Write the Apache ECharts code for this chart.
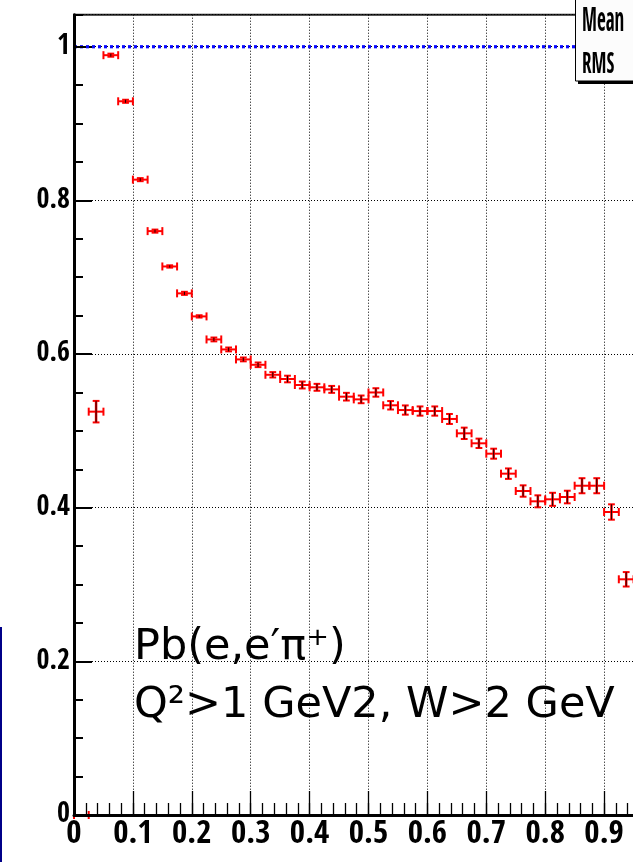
<!DOCTYPE html>
<html><head><meta charset="utf-8">
<script src="https://cdn.jsdelivr.net/npm/echarts@6/dist/echarts.min.js"></script>
<style>html,body{margin:0;padding:0;background:#fff}#c{width:633px;height:862px}</style>
</head><body><div id="c"></div>
<script>
// ---- data ----
const binCenters = [0.0125,0.0375,0.0625,0.0875,0.1125,0.1375,0.1625,0.1875,0.2125,0.2375,
  0.2625,0.2875,0.3125,0.3375,0.3625,0.3875,0.4125,0.4375,0.4625,0.4875,
  0.5125,0.5375,0.5625,0.5875,0.6125,0.6375,0.6625,0.6875,0.7125,0.7375,
  0.7625,0.7875,0.8125,0.8375,0.8625,0.8875,0.9125,0.9375];
const ratio = [0,0.525,0.989,0.929,0.827,0.760,0.714,0.679,0.649,0.619,
  0.606,0.593,0.586,0.573,0.5675,0.5597,0.5567,0.554,0.5445,0.541,
  0.550,0.5333,0.5271,0.5258,0.5258,0.5155,0.4968,0.4838,0.4703,0.4443,
  0.4217,0.4083,0.4109,0.4139,0.4286,0.4286,0.3944,0.3068];
const ratioErr = [0,0.014,0.002,0.002,0.002,0.002,0.0015,0.002,0.0015,0.0025,
  0.0025,0.0025,0.003,0.0035,0.0043,0.0045,0.0045,0.0045,0.005,0.005,
  0.0055,0.0055,0.006,0.006,0.006,0.0065,0.0074,0.0061,0.0065,0.0068,
  0.0074,0.0078,0.0085,0.0082,0.0098,0.0098,0.0100,0.0094];
const binWidth = 0.025;
const refLineX = [0, 1];
const refLineY = [1, 1];
const xTickLabels = ['0','0.1','0.2','0.3','0.4','0.5','0.6','0.7','0.8','0.9','1'];
const yTickLabels = ['0','0.2','0.4','0.6','0.8','1'];
const statLabels = ['Mean', 'RMS'];
const annotation = ['Pb(e,e\u2032\u03C0\u207A)', 'Q\u00B2>1 GeV2, W>2 GeV'];

const narrow = "'Open Sans Condensed','Roboto Condensed',sans-serif";

function labelFrom(list, step) {
  return function (v) {
    const i = Math.round(v / step);
    if (Math.abs(v - i * step) > 1e-6 || i < 0 || i >= list.length) return '';
    return list[i];
  };
}

function renderItem(params, api) {
  const x = api.value(0), y = api.value(1), e = api.value(2);
  const hw = binWidth / 2;
  const L = api.coord([x - hw, y]), R = api.coord([x + hw, y]);
  const T = api.coord([x, y + e]), B = api.coord([x, y - e]);
  const cap = 4, vcap = 3.4;
  const red = {stroke: '#ff0000', lineWidth: 2};
  return {
    type: 'group',
    children: [
      {type: 'line', shape: {x1: L[0], y1: L[1], x2: R[0], y2: R[1]}, style: red},
      {type: 'line', shape: {x1: L[0], y1: L[1] - cap, x2: L[0], y2: L[1] + cap}, style: red},
      {type: 'line', shape: {x1: R[0], y1: R[1] - cap, x2: R[0], y2: R[1] + cap}, style: red},
      {type: 'line', shape: {x1: T[0], y1: T[1], x2: B[0], y2: B[1]}, style: {stroke: '#ff0000', lineWidth: 2.5}},
      {type: 'line', shape: {x1: T[0] - vcap, y1: T[1], x2: T[0] + vcap, y2: T[1]}, style: red},
      {type: 'line', shape: {x1: B[0] - vcap, y1: B[1], x2: B[0] + vcap, y2: B[1]}, style: red},
      {type: 'line', shape: {x1: T[0], y1: T[1], x2: B[0], y2: B[1]}, style: {stroke: '#200000', lineWidth: 1}}
    ]
  };
}

const chart = echarts.init(document.getElementById('c'), null, {renderer: 'canvas'});
const yMax = 1.0417;
const option = {
  animation: false,
  backgroundColor: '#ffffff',
  grid: {left: 74, top: 14.7, width: 589, height: 800.3, show: true, containLabel: false,
         outerBoundsMode: 'none',
         backgroundColor: '#ffffff', borderColor: '#222222', borderWidth: 2},
  xAxis: [
    {type: 'value', position: 'bottom', min: 0, max: 1, interval: 0.1,
     axisLine: {show: false},
     axisTick: {show: true, inside: true, length: 24, lineStyle: {color: '#000', width: 1.3}},
     splitLine: {show: true, lineStyle: {color: '#000', width: 1, type: [1, 2]}},
     axisLabel: {show: true, formatter: labelFrom(xTickLabels, 0.1), margin: 3,
                 fontFamily: narrow, fontWeight: 'bold', fontSize: 33, color: '#000'}},
    {type: 'value', position: 'bottom', min: 0, max: 1, interval: 0.02, z: 10,
     axisLine: {show: true, onZero: false, lineStyle: {color: '#000', width: 3}},
     axisTick: {show: true, inside: true, length: 12, lineStyle: {color: '#000', width: 1.3}},
     splitLine: {show: false}, axisLabel: {show: false}}
  ],
  yAxis: [
    {type: 'value', position: 'left', min: 0, max: yMax, interval: 0.2,
     axisLine: {show: false},
     axisTick: {show: true, inside: true, length: 18, lineStyle: {color: '#000', width: 2}},
     splitLine: {show: true, lineStyle: {color: '#000', width: 1, type: [1, 2]}},
     axisLabel: {show: true, formatter: labelFrom(yTickLabels, 0.2), margin: 4, showMaxLabel: false,
                 padding: [10, 0, 0, 0],
                 fontFamily: narrow, fontWeight: 'bold', fontSize: 28, color: '#000'}},
    {type: 'value', position: 'left', min: 0, max: yMax, interval: 0.05, z: 10,
     axisLine: {show: true, onZero: false, lineStyle: {color: '#000', width: 3}},
     axisTick: {show: true, inside: true, length: 9, lineStyle: {color: '#000', width: 2}},
     splitLine: {show: false}, axisLabel: {show: false}}
  ],
  series: [
    {type: 'line', xAxisIndex: 0, yAxisIndex: 0, showSymbol: false, z: 3,
     data: refLineX.map((x, i) => [x, refLineY[i]]),
     lineStyle: {color: '#0a0aff', width: 3.2, type: [3, 3], cap: 'butt'}},
    {type: 'custom', xAxisIndex: 0, yAxisIndex: 0, z: 4, renderItem: renderItem,
     encode: {x: 0, y: 1},
     data: binCenters.map((x, i) => [x, ratio[i], ratioErr[i]])}
  ],
  graphic: [
    {type: 'rect', z: 100, shape: {x: 578, y: 81, width: 80, height: 3}, style: {fill: '#000'}},
    {type: 'rect', z: 101, shape: {x: 575.5, y: -5, width: 80, height: 86}, style: {fill: '#fcfcfc', stroke: '#000', lineWidth: 1}},
    {type: 'text', z: 102, x: 582, y: 22.5, scaleY: 1.75,
     style: {text: statLabels[0], fontFamily: narrow, fontWeight: 'bold', fontSize: 19, fill: '#000', verticalAlign: 'middle'}},
    {type: 'text', z: 102, x: 582, y: 65.5, scaleY: 1.55,
     style: {text: statLabels[1], fontFamily: narrow, fontWeight: 'bold', fontSize: 19, fill: '#000', verticalAlign: 'middle'}},
    {type: 'line', z: 100, shape: {x1: 1, y1: 627, x2: 1, y2: 862}, style: {stroke: '#000088', lineWidth: 2}},
    {type: 'text', z: 50, x: 134, y: 648,
     style: {text: annotation[0], fontFamily: "'DejaVu Sans',sans-serif", fontSize: 43, fill: '#000', verticalAlign: 'middle'}},
    {type: 'text', z: 50, x: 134, y: 706,
     style: {text: annotation[1], fontFamily: "'DejaVu Sans',sans-serif", fontSize: 43, fill: '#000', verticalAlign: 'middle'}}
  ]
};
chart.setOption(option);
</script>
</body></html>
